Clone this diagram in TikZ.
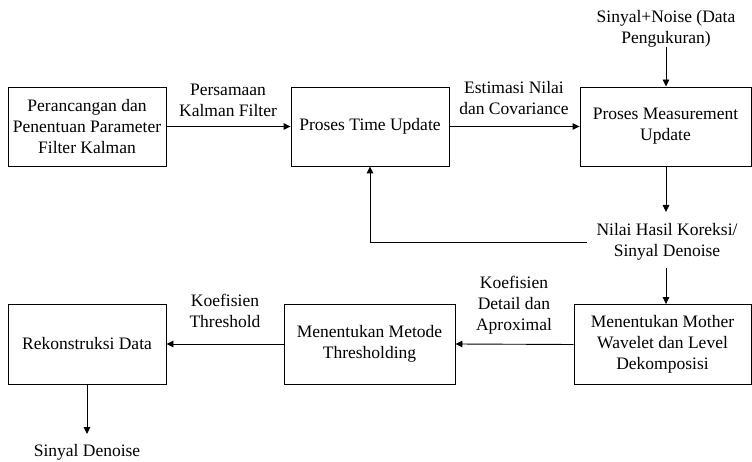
\documentclass[tikz,border=0pt]{standalone}
\usepackage{fontspec}
\setmainfont{Liberation Serif}
\usetikzlibrary{arrows.meta}
\begin{document}
\begin{tikzpicture}[x=1pt,y=-1pt,
  box/.style={draw,line width=0.9pt,minimum height=79pt,align=center,inner sep=0pt},
  lbl/.style={align=center,inner sep=0pt},
  arr/.style={line width=0.9pt,-{Triangle[length=7pt,width=6.5pt]}},
  every node/.append style={font=\rmfamily\fontsize{17.5}{21}\selectfont}]
\useasboundingbox (0,0) rectangle (752,462);
\node[box,minimum width=158pt] (b1) at (87,126.5) {Perancangan dan\\Penentuan Parameter\\Filter Kalman};
\node[box,minimum width=158pt] (b2) at (370,126.5) {Proses Time Update};
\node[box,minimum width=171pt] (b3) at (665.5,126.5) {Proses Measurement\\Update};
\node[box,minimum width=158pt,minimum height=80pt] (b4) at (87,344) {Rekonstruksi Data};
\node[box,minimum width=171pt,minimum height=80pt] (b5) at (369.5,344) {Menentukan Metode\\Thresholding};
\node[box,minimum width=177pt,minimum height=80pt] (b6) at (662.5,344.5) {Menentukan Mother\\Wavelet dan Level\\Dekomposisi};
\node[lbl] (l1) at (228,100) {Persamaan\\Kalman Filter};
\node[lbl] (l2) at (514,98) {Estimasi Nilai\\dan Covariance};
\node[lbl] (sn) at (666,29) {Sinyal+Noise (Data\\Pengukuran)};
\node[lbl] (nh) at (667,242) {Nilai Hasil Koreksi/\\Sinyal Denoise};
\node[lbl] (l3) at (514,305) {Koefisien\\Detail dan\\Aproximal};
\node[lbl] (l4) at (225,311) {Koefisien\\Threshold};
\node[lbl] (sd) at (87,452) {Sinyal Denoise};
\coordinate (snb) at (666,47);
\coordinate (nht) at (666,212);
\coordinate (nhb) at (666,268);
\coordinate (fb) at (587,242);
\coordinate (sdt) at (87,434);
\draw[arr] (b1.east) -- (b2.west);
\draw[arr] (b2.east) -- (b3.west);
\draw[arr] (snb) -- (b3.north -| snb);
\draw[arr] (b3.south -| nht) -- (nht);
\draw[arr] (fb) -| (b2.south);
\draw[arr] (nhb) -- (b6.north -| nhb);
\draw[arr] (b6.west) -- (b5.east);
\draw[arr] (b5.west) -- (b4.east);
\draw[arr] (b4.south) -- (sdt);
\end{tikzpicture}
\end{document}
